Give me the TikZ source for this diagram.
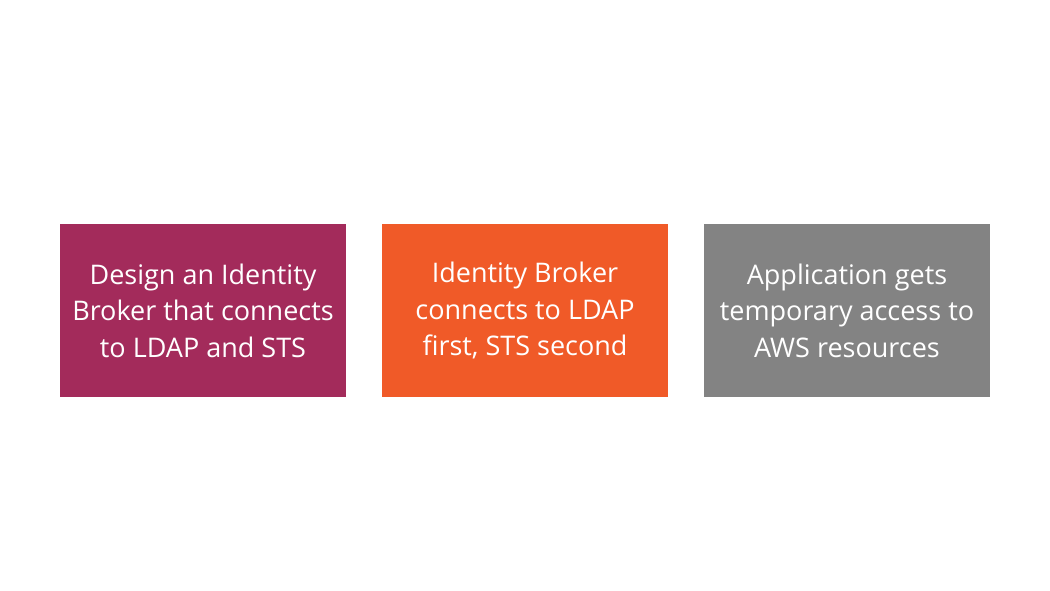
\documentclass[tikz,border=0pt]{standalone}
\usepackage{fontspec}
\setmainfont{Open Sans}
\definecolor{cpurple}{HTML}{A32B5B}
\definecolor{corange}{HTML}{F05A28}
\definecolor{cgray}{HTML}{838383}
\tikzset{
  card/.style={minimum width=286pt, minimum height=173pt, inner sep=0pt, text=white,
    align=center, font=\fontsize{27}{36.5}\selectfont}
}
\begin{document}
\begin{tikzpicture}[x=1pt,y=1pt]
\useasboundingbox (0,0) rectangle (1050,590);
\node[card, fill=cpurple] (b1) at (203,279.5) {Design an Identity\\Broker that connects\\to LDAP and STS};
\node[card, fill=corange] (b2) at (525,279.5) {Identity Broker\\connects to LDAP\\first, STS second};
\node[card, fill=cgray] (b3) at (847,279.5) {Application gets\\temporary access to\\AWS resources};
\end{tikzpicture}
\end{document}
